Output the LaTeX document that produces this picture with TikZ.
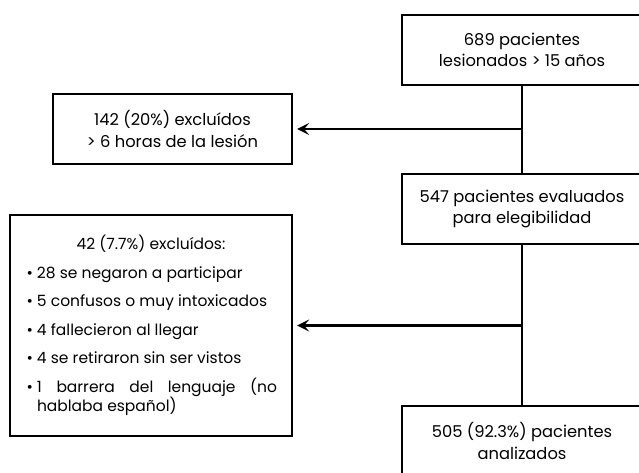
\documentclass[tikz,border=0pt]{standalone}
\usepackage{fontspec}
\setmainfont{Poppins}
\usetikzlibrary{arrows.meta,positioning}
\tikzset{
  flowbox/.style={draw, line width=2.3pt, minimum width=240pt, minimum height=70pt, align=center, inner sep=0pt},
  exclbox/.style={draw, line width=2.3pt, inner sep=0pt},
  flowline/.style={line width=2.3pt},
  flowarrow/.style={line width=2.3pt, -{Stealth[length=12pt,width=12pt,inset=5pt]}, shorten >=4pt}
}
\newcommand{\exitem}[1]{\par\vspace{10pt}\hangindent=12pt\hangafter=1\noindent\makebox[12pt][l]{\hspace{1.5pt}\textbullet}#1}

\begin{document}
\begin{tikzpicture}[x=1pt, y=-1pt, font=\fontsize{16.3}{21.5}\selectfont]
  \useasboundingbox (0,0) rectangle (639,472);
  \clip (0,0) rectangle (639,472);

  \node[flowbox] (689) at (522,50) {689 pacientes\\lesionados > 15 años};
  \node[flowbox] (547) at (522,209) {547 pacientes evaluados\\para elegibilidad};
  \node[flowbox] (505) at (522,441) {505 (92.3\%) pacientes\\analizados};

  \node[exclbox, minimum width=239pt, minimum height=70pt, align=center] (142) at (172.5,129)
    {142 (20\%) excluídos\\> 6 horas de la lesión};
  \node[exclbox, minimum width=282pt, minimum height=221pt, text width=252pt, align=justify,
    font=\fontsize{15.5}{18.5}\selectfont] (42) at (151,325.5) {%
    {\centering 42 (7.7\%) excluídos:\par}
    \exitem{28 se negaron a participar}
    \exitem{5 confusos o muy intoxicados}
    \exitem{4 fallecieron al llegar}
    \exitem{4 se retiraron sin ser vistos}
    \exitem{1 barrera del lenguaje (no\linebreak hablaba español)}\par};

  \coordinate (j1) at (522,129);
  \coordinate (j2) at (522,325.5);

  \draw[flowline] (689) -- (547);
  \draw[flowline] (547) -- (505);
  \draw[flowarrow] (j1) -- (142);
  \draw[flowarrow] (j2) -- (42);
\end{tikzpicture}
\end{document}
